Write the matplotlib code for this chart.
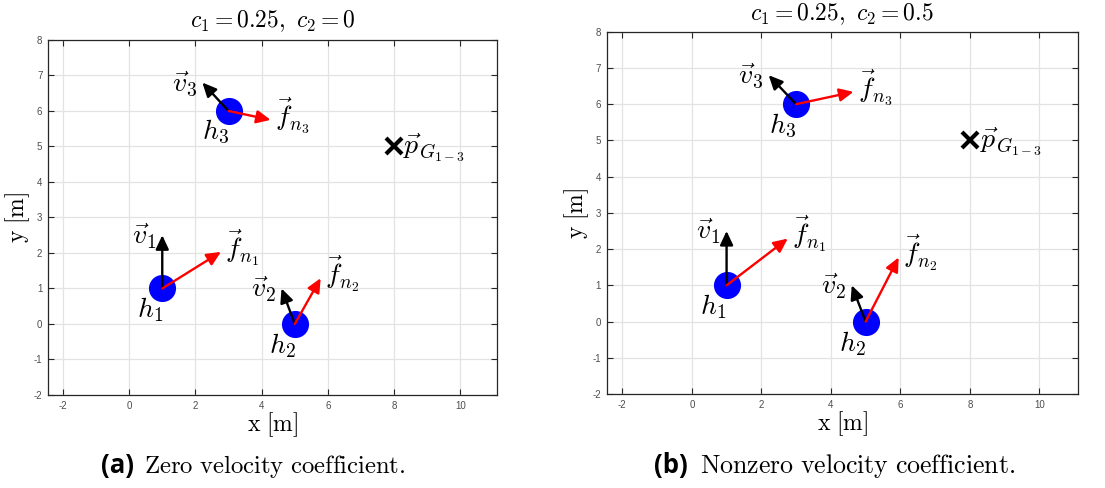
import matplotlib
matplotlib.use("Agg")
import matplotlib.pyplot as plt

plt.rcParams["mathtext.fontset"] = "cm"
plt.rcParams["font.family"] = ["DejaVu Sans"]
plt.rcParams["axes.unicode_minus"] = False

# Agent positions (same in both scenarios)
agent_x = [1, 5, 3]
agent_y = [1, 0, 6]
goal = (8, 5)

# Velocity vectors (same in both scenarios)
vel_u = [0.0, -0.4, -0.79]
vel_v = [1.5, 1.0, 0.8]

# Navigation force vectors per scenario
force_a_u = [1.77, 0.78, 1.27]
force_a_v = [1.03, 1.29, -0.25]
force_b_u = [1.76, 0.95, 1.65]
force_b_v = [1.29, 1.77, 0.34]

titles = [r"$c_1 = 0.25,\ c_2 = 0$", r"$c_1 = 0.25,\ c_2 = 0.5$"]
captions_tag = ["(a)", "(b)"]
captions_text = [r"$\mathrm{Zero\ velocity\ coefficient.}$",
                 r"$\mathrm{Nonzero\ velocity\ coefficient.}$"]

xticks = [-2, 0, 2, 4, 6, 8, 10]
yticks = [-2, -1, 0, 1, 2, 3, 4, 5, 6, 7, 8]
xlim = (-2.45, 11.1)
ylim = (-2, 8)

fig = plt.figure(figsize=(11.05, 4.88), dpi=100)
axes_rects = [[0.0434, 0.1906, 0.4063, 0.7275],
              [0.5490, 0.1926, 0.4263, 0.7424]]
title_pads = [9, 8]
forces = [(force_a_u, force_a_v), (force_b_u, force_b_v)]
tag_right = [134, 688]
text_left = [144, 700]
caption_fs = [17.8, 18.6]

LABEL_FS = 20


def arrow(ax, x0, y0, dx, dy, color):
    ax.annotate("", xy=(x0 + dx, y0 + dy), xytext=(x0, y0),
                arrowprops=dict(arrowstyle="-|>,head_length=0.6,head_width=0.28",
                                color=color, lw=1.7, shrinkA=0, shrinkB=0,
                                mutation_scale=14),
                zorder=4)


for k, rect in enumerate(axes_rects):
    ax = fig.add_axes(rect)
    ax.set_xlim(*xlim)
    ax.set_ylim(*ylim)
    ax.set_xticks(xticks)
    ax.set_yticks(yticks)
    ax.tick_params(direction="in", length=4, width=0.8, labelsize=7,
                   colors="#262626", labelcolor="#4d4d4d",
                   top=True, right=True, pad=4)
    for lab in ax.get_xticklabels() + ax.get_yticklabels():
        lab.set_family("Liberation Sans")
    for s in ax.spines.values():
        s.set_color("#262626")
        s.set_linewidth(0.9)
    ax.grid(True, color="#e3e3e3", lw=0.9)
    ax.set_axisbelow(True)

    fu, fv = forces[k]
    for i in range(3):
        ax.plot(agent_x[i], agent_y[i], "o", color="#0000ff",
                markersize=18.5, zorder=3)
        arrow(ax, agent_x[i], agent_y[i], vel_u[i], vel_v[i], "black")
        arrow(ax, agent_x[i], agent_y[i], fu[i], fv[i], "#ff0000")
        # labels
        ax.text(agent_x[i] + vel_u[i] - 0.15, agent_y[i] + vel_v[i] - 0.02,
                r"$\vec{v}_%d$" % (i + 1), fontsize=LABEL_FS,
                ha="right", va="center", zorder=5)
        ax.text(agent_x[i] + fu[i] + 0.12, agent_y[i] + fv[i] + 0.12,
                r"$\vec{f}_{n_%d}$" % (i + 1), fontsize=LABEL_FS,
                ha="left", va="center", zorder=5)
        ax.text(agent_x[i] - 0.38, agent_y[i] - 0.6,
                r"$h_%d$" % (i + 1), fontsize=LABEL_FS,
                ha="center", va="center", zorder=5)

    ax.plot(goal[0], goal[1], "x", color="black", markersize=11,
            markeredgewidth=3, zorder=4)
    ax.text(goal[0] + 0.28, goal[1] - 0.05, r"$\vec{p}_{G_{1-3}}$",
            fontsize=LABEL_FS, ha="left", va="center", zorder=5)

    ax.set_title(titles[k], fontsize=17, pad=title_pads[k])
    ax.set_xlabel(r"$\mathrm{x}\ [\mathrm{m}]$", fontsize=17, labelpad=0)
    ax.set_ylabel(r"$\mathrm{y}\ [\mathrm{m}]$", fontsize=17, labelpad=1)

    fig.text(tag_right[k] / 1105, 1 - 466 / 488, captions_tag[k],
             fontsize=18.5, fontweight="bold", family="Open Sans",
             ha="right", va="center")
    fig.text(text_left[k] / 1105, 1 - 466 / 488, captions_text[k],
             fontsize=caption_fs[k], ha="left", va="center")

fig.savefig("out.png", dpi=100)
